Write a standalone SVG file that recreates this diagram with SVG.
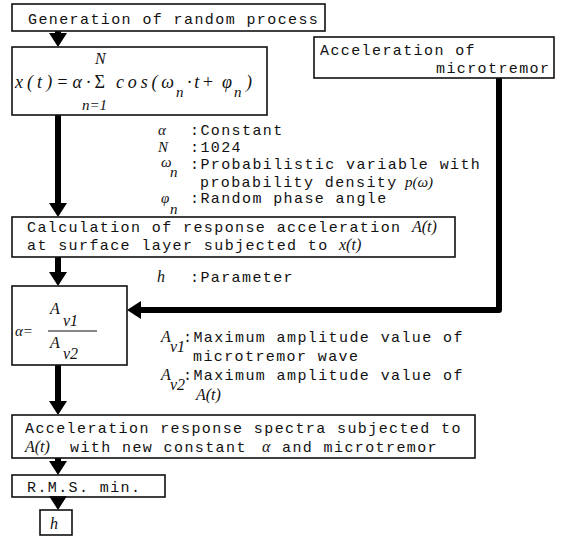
<svg xmlns="http://www.w3.org/2000/svg" width="569" height="544" viewBox="0 0 569 544">
<style>
.box{fill:none;stroke:#111;stroke-width:1.6}
.t{font-family:"Liberation Mono",monospace;font-size:15px;letter-spacing:1.4px;fill:#111}
.m{font-family:"Liberation Serif",serif;font-style:italic;font-size:16px;fill:#111}
.f{font-family:"Liberation Serif",serif;font-style:italic;font-size:18px;fill:#111}
.s{font-family:"Liberation Serif",serif;font-style:italic;font-size:15px;fill:#111}
.ln{fill:none;stroke:#000;stroke-width:6;stroke-linejoin:round}
</style>
<defs>
<marker id="ah" viewBox="0 0 14 18" refX="4" refY="9" markerWidth="14" markerHeight="18" orient="auto" markerUnits="userSpaceOnUse">
<path d="M0,0 L14,9 L0,18 z" fill="#000"/>
</marker>
</defs>
<rect width="569" height="544" fill="#fff"/>

<g id="connectors">
<path class="ln" d="M58,31 V37" marker-end="url(#ah)"/>
<path class="ln" d="M58,115 V207" marker-end="url(#ah)"/>
<path class="ln" d="M58,257 V276" marker-end="url(#ah)"/>
<path class="ln" d="M58,365 V405" marker-end="url(#ah)"/>
<path class="ln" d="M58,458 V465" marker-end="url(#ah)"/>
<path class="ln" d="M58,497 V500" marker-end="url(#ah)"/>
<path class="ln" d="M499,78 V310 H137" marker-end="url(#ah)"/>
</g>

<g id="generation">
<rect class="box" x="12" y="4" width="313" height="27"/>
<text class="t" x="28" y="24">Generation of random process</text>
</g>

<g id="formula">
<rect class="box" x="12" y="47" width="255" height="68"/>
<text class="m" x="95" y="64">N</text>
<text class="f" x="15" y="88" textLength="90" lengthAdjust="spacing">x(t)=α·<tspan font-style="normal">Σ</tspan></text>
<text class="f" x="116" y="88" textLength="58" lengthAdjust="spacing">cos(ω</text>
<text class="s" x="176" y="97">n</text>
<text class="f" x="187" y="88" textLength="27" lengthAdjust="spacing">·t+</text>
<text class="f" x="222" y="88">φ</text>
<text class="s" x="234" y="97">n</text>
<text class="f" x="246" y="88">)</text>
<text class="s" x="82" y="110">n=1</text>
</g>

<g id="microtremor">
<rect class="box" x="314" y="37" width="240" height="41"/>
<text class="t" x="320" y="55">Acceleration of</text>
<text class="t" x="436" y="73">microtremor</text>
</g>

<g id="notes1">
<text class="s" x="158" y="135">α</text>
<text class="t" x="190" y="135">:Constant</text>
<text class="s" x="158" y="152">N</text>
<text class="t" x="190" y="152">:1024</text>
<text class="s" x="161" y="167" font-style="normal">ω</text>
<text class="s" x="170" y="177">n</text>
<text class="t" x="190" y="169">:Probabilistic variable with</text>
<text class="t" x="200" y="187">probability density</text>
<text class="s" x="405" y="187">p(ω)</text>
<text class="s" x="161" y="203" font-style="normal">φ</text>
<text class="s" x="170" y="214">n</text>
<text class="t" x="190" y="203">:Random phase angle</text>
</g>

<g id="response">
<rect class="box" x="12" y="217" width="443" height="40"/>
<text class="t" x="27" y="232">Calculation of response acceleration</text>
<text class="m" x="412" y="232">A(t)</text>
<text class="t" x="27" y="250">at surface layer subjected to</text>
<text class="m" x="339" y="250">x(t)</text>
</g>

<g id="notes2">
<text class="m" x="157" y="282">h</text>
<text class="t" x="190" y="282">:Parameter</text>
</g>

<g id="ratio">
<rect class="box" x="12" y="286" width="115" height="79"/>
<text class="s" x="15" y="336">α=</text>
<text class="m" x="50" y="314">A</text>
<text class="m" x="63" y="326">v1</text>
<line x1="48" y1="331" x2="97" y2="331" stroke="#111" stroke-width="1.2"/>
<text class="m" x="50" y="348">A</text>
<text class="m" x="63" y="359">v2</text>
</g>

<g id="notes3">
<text class="m" x="161" y="342">A</text>
<text class="m" x="170" y="352">v1</text>
<text class="t" x="183" y="342">:Maximum amplitude value of</text>
<text class="t" x="193" y="361">microtremor wave</text>
<text class="m" x="161" y="380">A</text>
<text class="m" x="170" y="390">v2</text>
<text class="t" x="183" y="380">:Maximum amplitude value of</text>
<text class="m" x="196" y="400">A(t)</text>
</g>

<g id="spectra">
<rect class="box" x="12" y="415" width="463" height="43"/>
<text class="t" x="25" y="433">Acceleration response spectra subjected to</text>
<text class="m" x="25" y="452">A(t)</text>
<text class="t" x="70" y="452">with new constant</text>
<text class="m" x="262" y="452">α</text>
<text class="t" x="282" y="452">and microtremor</text>
</g>

<g id="rms">
<rect class="box" x="12" y="475" width="153" height="22"/>
<text class="t" x="27" y="492">R.M.S.  min.</text>
</g>

<g id="h">
<rect class="box" x="40" y="510" width="32" height="25"/>
<text class="m" x="50" y="529">h</text>
</g>
</svg>
